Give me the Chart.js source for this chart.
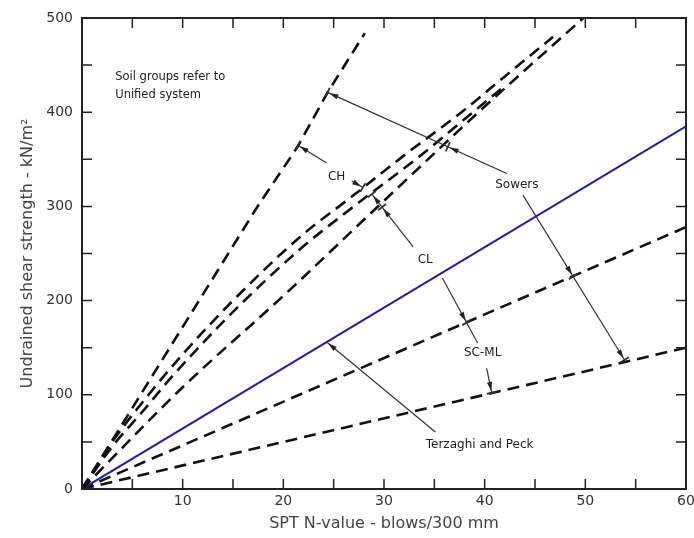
<!DOCTYPE html>
<html>
<head>
<meta charset="utf-8">
<script src="https://cdn.jsdelivr.net/npm/chart.js@4.4.1/dist/chart.umd.min.js"></script>
<style>
  html, body { margin: 0; padding: 0; background: #fff; }
  #wrap { width: 694px; height: 538px; position: relative; }
</style>
</head>
<body>
<div id="wrap"><canvas id="chart"></canvas></div>
<script>
// Sowers - CH upper line
const chX = [0, 5, 10, 17.5, 21.4, 24.4, 28.1];
const chY = [0, 86, 172, 301, 363, 421, 484];
// middle group (CH lower / CL band)
const clUpX = [0, 3, 6, 10, 15, 21.6, 27, 32.1, 37.7, 42, 46.8];
const clUpY = [0, 50, 92, 143, 200, 267, 312, 355, 400, 438, 480];
const clMidX = [0, 3, 6, 9, 15, 21.6, 27, 33.4, 38.5, 42];
const clMidY = [0, 45, 82, 120, 188, 254, 300, 352, 397, 428];
const clLowX = [0, 10, 20, 30, 40, 49.8];
const clLowY = [0, 108, 205, 306, 406, 500];
// Terzaghi and Peck
const tpX = [0, 60];
const tpY = [0, 385];
// SC-ML band
const scUpX = [0, 60];
const scUpY = [0, 278];
const scLowX = [0, 60];
const scLowY = [0, 150];

const xTickLabels = [10, 20, 30, 40, 50, 60];
const yTickLabels = [0, 100, 200, 300, 400, 500];

function pts(xs, ys) {
  return xs.map((v, i) => ({ x: v, y: ys[i] }));
}

// pointer lines, in data units
const pointers = [
  { from: [42.2, 335], to: [24.4, 421], marks: [[36.5, 367], [24.4, 421]] },
  { from: [43.8, 312], to: [53.9, 137], marks: [[48.7, 225], [53.9, 137]] },
  { from: [24.3, 346], to: [21.45, 365], marks: [[21.45, 365]] },
  { from: [26.8, 327], to: [27.9, 320], marks: [[27.9, 320]] },
  { from: [32.9, 257], to: [28.8, 313], marks: [[29.9, 300], [28.8, 313]] },
  { from: [35.8, 224], to: [39.3, 155], marks: [[38.3, 177]] },
  { from: [40.2, 128], to: [40.7, 102], marks: [[40.7, 102]] },
  { from: [35.1, 60.5], to: [24.3, 156], marks: [[24.3, 156]], noBar: true }
];

const labels = [
  { text: 'CH', at: [25.3, 331] },
  { text: 'CL', at: [34.1, 243] },
  { text: 'SC-ML', at: [39.8, 144] },
  { text: 'Sowers', at: [43.2, 323] },
  { text: 'Terzaghi and Peck', at: [39.5, 47] }
];

const decor = {
  id: 'decor',
  afterDatasetsDraw(chart) {
    const { ctx, chartArea: a, scales: { x, y } } = chart;
    const px = v => x.getPixelForValue(v);
    const py = v => y.getPixelForValue(v);
    ctx.save();

    // frame
    ctx.strokeStyle = '#222';
    ctx.lineWidth = 2;
    ctx.strokeRect(a.left, a.top, a.width, a.height);

    // inward ticks on all four sides
    ctx.lineWidth = 1.5;
    const tl = 10;
    ctx.beginPath();
    x.ticks.forEach(t => {
      if (t.value <= x.min || t.value >= x.max) return;
      const p = px(t.value);
      ctx.moveTo(p, a.bottom); ctx.lineTo(p, a.bottom - tl);
      ctx.moveTo(p, a.top); ctx.lineTo(p, a.top + tl);
    });
    y.ticks.forEach(t => {
      if (t.value <= y.min || t.value >= y.max) return;
      const p = py(t.value);
      ctx.moveTo(a.left, p); ctx.lineTo(a.left + tl, p);
      ctx.moveTo(a.right, p); ctx.lineTo(a.right - tl, p);
    });
    ctx.stroke();

    // pointers
    ctx.strokeStyle = '#333';
    ctx.fillStyle = '#222';
    ctx.lineWidth = 1.2;
    pointers.forEach(pt => {
      const x0 = px(pt.from[0]), y0 = py(pt.from[1]);
      const x1 = px(pt.to[0]), y1 = py(pt.to[1]);
      const len = Math.hypot(x1 - x0, y1 - y0);
      const ux = (x1 - x0) / len, uy = (y1 - y0) / len;
      ctx.beginPath();
      ctx.moveTo(x0, y0);
      ctx.lineTo(x1, y1);
      ctx.stroke();
      pt.marks.forEach(m => {
        // project mark onto the pointer line
        const mx0 = px(m[0]), my0 = py(m[1]);
        const s = (mx0 - x0) * ux + (my0 - y0) * uy;
        const mx = x0 + ux * s, my = y0 + uy * s;
        if (!pt.noBar) {
          ctx.lineWidth = 1.8;
          ctx.beginPath();
          ctx.moveTo(mx - uy * 5, my + ux * 5);
          ctx.lineTo(mx + uy * 5, my - ux * 5);
          ctx.stroke();
          ctx.lineWidth = 1.2;
        }
        const tx = mx - ux * 2, ty = my - uy * 2;
        const bx = mx - ux * 11, by = my - uy * 11;
        ctx.beginPath();
        ctx.moveTo(tx, ty);
        ctx.lineTo(bx - uy * 2.6, by + ux * 2.6);
        ctx.lineTo(bx + uy * 2.6, by - ux * 2.6);
        ctx.closePath();
        ctx.fill();
      });
    });

    // labels
    ctx.fillStyle = '#222';
    ctx.font = '12px "DejaVu Sans"';
    ctx.textAlign = 'center';
    ctx.textBaseline = 'middle';
    labels.forEach(l => ctx.fillText(l.text, px(l.at[0]), py(l.at[1])));

    ctx.textAlign = 'left';
    ctx.font = '11.5px "DejaVu Sans"';
    ctx.fillText('Soil groups refer to', px(3.3), py(437));
    ctx.fillText('Unified system', px(3.3), py(418));

    ctx.restore();
  }
};

const dashed = { borderColor: '#111', borderWidth: 2.6, borderDash: [12, 7] };

new Chart(document.getElementById('chart'), {
  type: 'scatter',
  data: {
    datasets: [
      { label: 'CH', data: pts(chX, chY), ...dashed },
      { label: 'CL upper', data: pts(clUpX, clUpY), ...dashed, cubicInterpolationMode: 'monotone' },
      { label: 'CL middle', data: pts(clMidX, clMidY), ...dashed, cubicInterpolationMode: 'monotone' },
      { label: 'CL lower', data: pts(clLowX, clLowY), ...dashed, cubicInterpolationMode: 'monotone' },
      { label: 'Terzaghi and Peck', data: pts(tpX, tpY), borderColor: '#1f1f9e', borderWidth: 2 },
      { label: 'SC-ML upper', data: pts(scUpX, scUpY), ...dashed },
      { label: 'SC-ML lower', data: pts(scLowX, scLowY), ...dashed }
    ].map(d => Object.assign({ showLine: true, pointRadius: 0, fill: false }, d))
  },
  options: {
    responsive: true,
    maintainAspectRatio: false,
    animation: false,
    layout: { padding: { top: 18, right: 8, left: 0, bottom: 0 } },
    plugins: { legend: { display: false }, tooltip: { enabled: false } },
    scales: {
      x: {
        type: 'linear',
        min: 0, max: 60,
        afterFit: s => { s.height = 49; s.paddingLeft = 0; s.paddingRight = 0; },
        grid: { display: true, drawOnChartArea: false, drawTicks: false },
        border: { display: false },
        ticks: {
          stepSize: 5, autoSkip: false, maxRotation: 0, padding: 4,
          color: '#333', font: { family: 'DejaVu Sans', size: 14 },
          callback: v => xTickLabels.includes(v) ? String(v) : ''
        },
        title: {
          display: true, text: 'SPT N-value - blows/300 mm',
          color: '#444', font: { family: 'DejaVu Sans', size: 16 },
          padding: { top: 5, bottom: 5 }
        }
      },
      y: {
        type: 'linear',
        min: 0, max: 500,
        afterFit: s => { s.width = 82; s.paddingTop = 0; s.paddingBottom = 0; },
        grid: { display: true, drawOnChartArea: false, drawTicks: false },
        border: { display: false },
        ticks: {
          stepSize: 50, autoSkip: false, padding: 9,
          color: '#333', font: { family: 'DejaVu Sans', size: 14 },
          callback: v => yTickLabels.includes(v) ? String(v) : ''
        },
        title: {
          display: true, text: 'Undrained shear strength - kN/m²',
          color: '#444', font: { family: 'DejaVu Sans', size: 16 },
          padding: { top: 18, bottom: 18 }
        }
      }
    }
  },
  plugins: [decor]
});
</script>
</body>
</html>
